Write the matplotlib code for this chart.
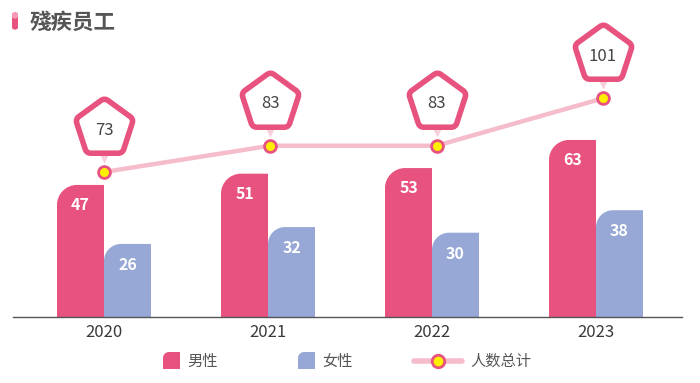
import numpy as np
import matplotlib.pyplot as plt
from matplotlib.path import Path
from matplotlib.patches import PathPatch, FancyBboxPatch
from matplotlib.markers import MarkerStyle
from matplotlib.lines import Line2D
import matplotlib.transforms as mtransforms

plt.rcParams['font.family'] = ['Noto Sans CJK SC', 'DejaVu Sans']

years = ['2020', '2021', '2022', '2023']
male = [47, 51, 53, 63]
female = [26, 32, 30, 38]
total = [73, 83, 83, 101]

PINK = '#e8527f'
BLUE = '#97a8d6'
LINE = '#f5bccb'
YELLOW = '#fff000'

W, H = 700, 383
fig = plt.figure(figsize=(W / 100, H / 100), dpi=100)

# axes placed in pixels: baseline y=317, axis line from x=13 to 682
rect = [13 / W, (H - 317) / H, 669 / W, 281 / H]
ax = fig.add_axes(rect)
px_x = 164.0          # pixels per category (bars)
c0 = 104.0            # pixel of first category centre
ax.set_xlim(-(c0 - 13) / px_x, (682 - c0) / px_x)
ax.set_ylim(0, 100)
px_y = 281 / 100.0    # pixels per unit

# the total line sits on its own scale
ax2 = fig.add_axes(rect, facecolor='none')
lx = 166.3
l0 = 104
ax2.set_xlim(-(l0 - 13) / lx, (682 - l0) / lx)
k2 = 2.63
vmin = 73 - 145 / k2
ax2.set_ylim(vmin, vmin + 281 / k2)
ax2.axis('off')

for s in ['top', 'right', 'left']:
    ax.spines[s].set_visible(False)
ax.set_yticks([])
ax.spines['bottom'].set_color('#555555')
ax.spines['bottom'].set_linewidth(1.0)
ax.set_xticks(range(len(years)))
ax.set_xticklabels(years, fontsize=12, color='#3a3a3a')
ax.tick_params(axis='x', length=0, pad=5)


def tl_round_bar(x0, x1, h, r_px):
    rx = r_px / px_x
    ry = r_px / px_y
    kk = 0.5523
    verts = [(x0, 0), (x0, h - ry),
             (x0, h - ry + kk * ry), (x0 + rx - kk * rx, h), (x0 + rx, h),
             (x1, h), (x1, 0), (x0, 0)]
    codes = [Path.MOVETO, Path.LINETO,
             Path.CURVE4, Path.CURVE4, Path.CURVE4,
             Path.LINETO, Path.LINETO, Path.CLOSEPOLY]
    return Path(verts, codes)


bw = 47 / px_x
for i in range(len(years)):
    ax.add_patch(PathPatch(tl_round_bar(i - bw, i, male[i], 20), fc=PINK, ec='none'))
    ax.add_patch(PathPatch(tl_round_bar(i, i + bw, female[i], 17), fc=BLUE, ec='none'))
    ax.annotate(str(male[i]), (i - bw / 2, male[i]), xytext=(0, -20 * 0.72),
                textcoords='offset points', ha='center', va='center',
                color='white', fontsize=11.5, fontweight='bold')
    ax.annotate(str(female[i]), (i + bw / 2, female[i]), xytext=(0, -21 * 0.72),
                textcoords='offset points', ha='center', va='center',
                color='white', fontsize=11.5, fontweight='bold')

x = np.arange(len(years))
ax2.plot(x, total, color=LINE, lw=3.2, solid_capstyle='round', zorder=3)
ax2.plot(x, total, ls='none', marker='o', ms=8.5, mfc=YELLOW, mec=PINK, mew=2, zorder=5)


def rounded_pentagon(t=0.12):
    ang = np.pi / 2 + np.arange(5) * 2 * np.pi / 5
    v = np.column_stack([np.cos(ang), np.sin(ang)])
    verts, codes = [], []
    for i in range(5):
        p = v[i]
        a = v[i - 1]
        b = v[(i + 1) % 5]
        p_in = p + (a - p) * t
        p_out = p + (b - p) * t
        verts += [p_in, p, p_out]
        codes += [Path.LINETO if i else Path.MOVETO, Path.CURVE3, Path.CURVE3]
    verts.append(verts[0])
    codes.append(Path.CLOSEPOLY)
    return Path(verts, codes)


# pentagon callouts above the points
tri_t = mtransforms.offset_copy(ax2.transData, fig=fig, x=0, y=15 * 0.72, units='points')
pent_t = mtransforms.offset_copy(ax2.transData, fig=fig, x=0, y=44 * 0.72, units='points')
ax2.plot(x, total, ls='none', marker='v', ms=8, mfc='#f8cfda', mec='none',
         transform=tri_t, zorder=4, clip_on=False)
pent = MarkerStyle(rounded_pentagon(), joinstyle='round')
ax2.plot(x, total, ls='none', marker=pent, ms=44, mfc='white', mec=PINK, mew=4,
         transform=pent_t, zorder=6, clip_on=False)
for i, v in enumerate(total):
    ax2.annotate(str(v), (i, v), xytext=(0, 42 * 0.72), textcoords='offset points',
                 ha='center', va='center', fontsize=12, color='#444444', zorder=7)

# title
fig.add_artist(FancyBboxPatch((12 / W, (H - 30) / H), 6 / W, 18 / H,
                              boxstyle='round,pad=0,rounding_size=0.007',
                              transform=fig.transFigure, fc=PINK, ec='none'))
fig.add_artist(FancyBboxPatch((12 / W, (H - 19) / H), 6 / W, 7 / H,
                              boxstyle='round,pad=0,rounding_size=0.007',
                              transform=fig.transFigure, fc='#f59ab5', ec='none'))
fig.text(30 / W, 1 - 22 / H, '殘疾员工', fontsize=15.5, fontweight='bold',
         color='#555555', va='center', ha='left')

# legend
lax = fig.add_axes([0, 0, 1, 1], facecolor='none')
lax.set_xlim(0, W)
lax.set_ylim(H, 0)
lax.axis('off')


def legend_square(x0, color):
    s = 17
    r = 6
    kk = 0.5523
    y0, y1 = 352 + s, 352
    verts = [(x0, y0), (x0, y1 + r), (x0, y1 + r - kk * r), (x0 + r - kk * r, y1),
             (x0 + r, y1), (x0 + s, y1), (x0 + s, y0), (x0, y0)]
    codes = [Path.MOVETO, Path.LINETO, Path.CURVE4, Path.CURVE4, Path.CURVE4,
             Path.LINETO, Path.LINETO, Path.CLOSEPOLY]
    lax.add_patch(PathPatch(Path(verts, codes), fc=color, ec='none'))


legend_square(163, PINK)
lax.text(187, 361, '男性', fontsize=11, color='#555555', va='center')
legend_square(298, BLUE)
lax.text(322, 361, '女性', fontsize=11, color='#555555', va='center')
lax.add_line(Line2D([414, 462], [361, 361], color=LINE, lw=4, solid_capstyle='round'))
lax.plot([438], [361], marker='o', ms=9, mfc=YELLOW, mec=PINK, mew=2)
lax.text(470, 361, '人数总计', fontsize=11, color='#555555', va='center')

fig.savefig('out.png', dpi=100)
